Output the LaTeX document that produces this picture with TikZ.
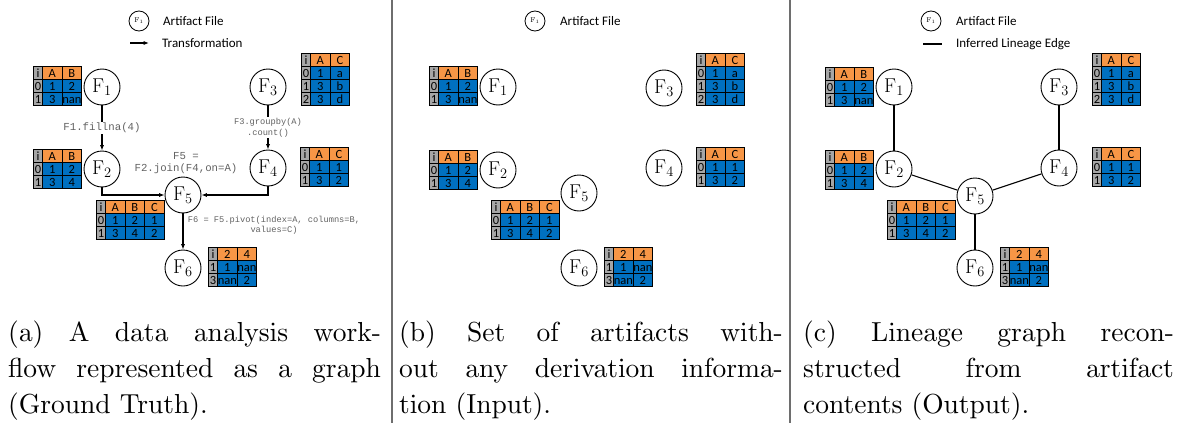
\documentclass[tikz,border=0pt]{standalone}
\usepackage{fontspec}
\newfontfamily\calfont{Carlito}
\newfontfamily\codefont{Liberation Mono}
\usetikzlibrary{arrows.meta,matrix}
\font\capfnt=cmr10 at 27.5pt

\definecolor{hdrorange}{RGB}{247,150,70}
\definecolor{cellblue}{RGB}{0,112,192}
\definecolor{idxgray}{RGB}{166,166,166}
\definecolor{codegray}{RGB}{98,98,98}
\definecolor{sepgray}{RGB}{110,110,110}

\tikzset{
  artifact/.style={circle, draw, line width=0.9pt, minimum size=36pt, inner sep=0pt,
    fill=white, font=\fontsize{20}{20}\selectfont},
  legcircle/.style={circle, draw, line width=0.8pt, minimum size=20pt, inner sep=0pt,
    font=\fontsize{7}{7}\selectfont},
  legtext/.style={anchor=west, inner sep=0pt, font=\calfont\fontsize{13}{13}\selectfont},
  flow/.style={line width=1.1pt, -{Latex[length=5.5pt,width=4.2pt]}},
  lineage/.style={line width=1.1pt},
  code/.style={font=\codefont\fontsize{10.7}{12.8}\selectfont, text=codegray,
    align=center, inner sep=1pt},
  smallcode/.style={font=\codefont\fontsize{8.7}{10.5}\selectfont, text=codegray,
    align=center, inner sep=1pt},
  dftable/.style={matrix of nodes, anchor=north west, inner sep=0pt,
    column sep=-0.8pt, row sep=-0.8pt, ampersand replacement=\&,
    nodes={draw, line width=0.8pt, fill=cellblue, minimum width=19.5pt,
      minimum height=13pt, inner sep=0pt, text height=8.5pt, text depth=0pt,
      font=\calfont\fontsize{12.5}{12.5}\selectfont},
    column 1/.style={nodes={fill=idxgray, minimum width=9pt}},
    row 1/.style={nodes={fill=hdrorange}},
    row 1 column 1/.style={nodes={fill=idxgray}}},
  caption/.style={anchor=base west, inner sep=0pt}
}

% data frames shown next to each artifact
\newcommand\dfmat[3]{\matrix[dftable] (#1) at (#2) {#3};}
\newcommand\tabone[2]{\dfmat{#1}{#2}{i \& A \& B\\ 0 \& 1 \& 2\\ 1 \& 3 \& nan\\}}
\newcommand\tabtwo[2]{\dfmat{#1}{#2}{i \& A \& B\\ 0 \& 1 \& 2\\ 1 \& 3 \& 4\\}}
\newcommand\tabthree[2]{\dfmat{#1}{#2}{i \& A \& C\\ 0 \& 1 \& a\\ 1 \& 3 \& b\\ 2 \& 3 \& d\\}}
\newcommand\tabfour[2]{\dfmat{#1}{#2}{i \& A \& C\\ 0 \& 1 \& 1\\ 1 \& 3 \& 2\\}}
\newcommand\tabfive[2]{\dfmat{#1}{#2}{i \& A \& B \& C\\ 0 \& 1 \& 2 \& 1\\ 1 \& 3 \& 4 \& 2\\}}
\newcommand\tabsix[2]{\dfmat{#1}{#2}{i \& 2 \& 4\\ 1 \& 1 \& nan\\ 3 \& nan \& 2\\}}

\newcommand\capline[2]{\makebox[#1][s]{#2}}

\begin{document}
\begin{tikzpicture}[x=1pt,y=-1pt]
\useasboundingbox (0,0) rectangle (1181,423);

% panel separators
\draw[sepgray, line width=1.2pt] (392,0) -- (392,423);
\draw[sepgray, line width=1.2pt] (790,0) -- (790,423);

% ---------- (a) ground truth workflow ----------
\node[legcircle] (a-legc) at (139,21) {$\mathrm{F}_1$};
\node[legtext] (a-legt) at (163,21) {Artifact File};
\coordinate (a-arr-s) at (130,43);
\coordinate (a-arr-e) at (149,43);
\draw[flow] (a-arr-s) -- (a-arr-e);
\node[legtext] (a-legf) at (162,43) {Transformation};

\node[artifact] (a1) at (102,87)  {$\mathrm{F}_1$};
\node[artifact] (a3) at (268,87)  {$\mathrm{F}_3$};
\node[artifact] (a2) at (102,169) {$\mathrm{F}_2$};
\node[artifact] (a4) at (268,168) {$\mathrm{F}_4$};
\node[artifact] (a5) at (183,195) {$\mathrm{F}_5$};
\node[artifact] (a6) at (183,268) {$\mathrm{F}_6$};

\tabone{a-t1}{33,66}
\tabthree{a-t3}{301,53}
\tabtwo{a-t2}{33,149}
\tabfour{a-t4}{300,147}
\tabfive{a-t5}{96,200}
\tabsix{a-t6}{208,247}

\draw[flow] (a1) -- node[code, fill=white] (a-l1) {F1.fillna(4)} (a2);
\draw[flow] (a3) -- node[smallcode, fill=white] (a-l3) {F3.groupby(A)\\.count()} (a4);
\draw[flow] (a2.south) |- (a5.west);
\draw[flow] (a4.south) |- (a5.east);
\draw[flow] (a5) -- (a6);
\node[code] (a-l5) at (186,163) {F5 =\\F2.join(F4,on=A)};
\node[smallcode] (a-l6) at (274,225) {F6 = F5.pivot(index=A, columns=B,\\values=C)};

% ---------- (b) artifacts only ----------
\node[legcircle] (b-legc) at (535,21) {$\mathrm{F}_1$};
\node[legtext] (b-legt) at (560,21) {Artifact File};

\node[artifact] (b1) at (498,87)  {$\mathrm{F}_1$};
\node[artifact] (b3) at (664,88)  {$\mathrm{F}_3$};
\node[artifact] (b2) at (498,170) {$\mathrm{F}_2$};
\node[artifact] (b4) at (664,168) {$\mathrm{F}_4$};
\node[artifact] (b5) at (579,193) {$\mathrm{F}_5$};
\node[artifact] (b6) at (579,268) {$\mathrm{F}_6$};

\tabone{b-t1}{429,66}
\tabthree{b-t3}{696,53}
\tabtwo{b-t2}{429,150}
\tabfour{b-t4}{696,147}
\tabfive{b-t5}{491,200}
\tabsix{b-t6}{604,247}

% ---------- (c) reconstructed lineage ----------
\node[legcircle] (c-legc) at (931,21) {$\mathrm{F}_1$};
\node[legtext] (c-legt) at (956,21) {Artifact File};
\coordinate (c-ln-s) at (923,44);
\coordinate (c-ln-e) at (942,44);
\draw[lineage] (c-ln-s) -- (c-ln-e);
\node[legtext] (c-legl) at (956,44) {Inferred Lineage Edge};

\node[artifact] (c1) at (894,87)  {$\mathrm{F}_1$};
\node[artifact] (c3) at (1059,87) {$\mathrm{F}_3$};
\node[artifact] (c2) at (894,169) {$\mathrm{F}_2$};
\node[artifact] (c4) at (1059,168) {$\mathrm{F}_4$};
\node[artifact] (c5) at (975,196) {$\mathrm{F}_5$};
\node[artifact] (c6) at (975,268) {$\mathrm{F}_6$};

\tabone{c-t1}{825,67}
\tabthree{c-t3}{1092,53}
\tabtwo{c-t2}{825,150}
\tabfour{c-t4}{1092,147}
\tabfive{c-t5}{887,200}
\tabsix{c-t6}{1000,247}

\draw[lineage] (c1) -- (c2);
\draw[lineage] (c3) -- (c4);
\draw[lineage] (c2) -- (c5);
\draw[lineage] (c4) -- (c5);
\draw[lineage] (c5) -- (c6);

% ---------- captions ----------
\node[caption] (cap-a) at (8,341) {\parbox[t]{373pt}{\capfnt\baselineskip=36pt
  \capline{373pt}{(a) A data analysis work-}\\
  \capline{373pt}{flow represented as a graph}\\
  (Ground Truth).}};
\node[caption] (cap-b) at (399,341) {\parbox[t]{384pt}{\capfnt\baselineskip=36pt
  \capline{384pt}{(b) Set of artifacts with-}\\
  \capline{384pt}{out any derivation informa-}\\
  tion (Input).}};
\node[caption] (cap-c) at (803,341) {\parbox[t]{371pt}{\capfnt\baselineskip=36pt
  \capline{371pt}{(c) Lineage graph recon-}\\
  \capline{371pt}{structed from artifact}\\
  contents (Output).}};
\end{tikzpicture}
\end{document}
